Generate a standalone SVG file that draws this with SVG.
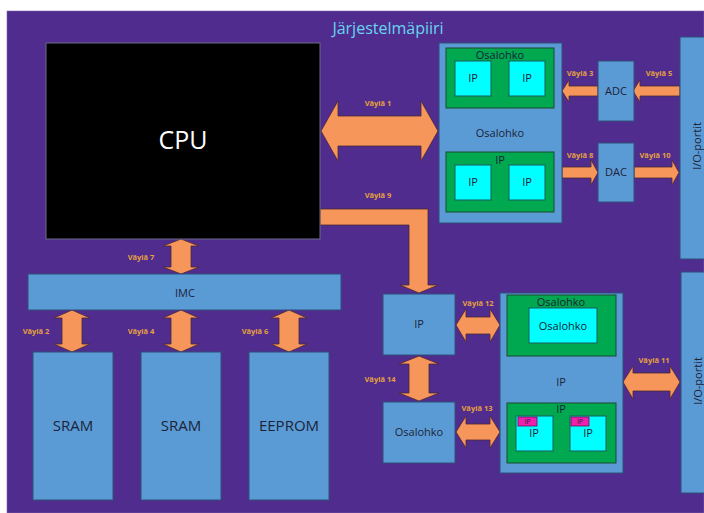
<svg xmlns="http://www.w3.org/2000/svg" width="704" height="513" viewBox="0 0 704 513">
<defs>
<style>
.bg{fill:#502c8e;}
.box{fill:#5b9bd5;stroke:#2f4f78;stroke-width:1;}
.grn{fill:#00a850;stroke:#1d4a2c;stroke-width:1;}
.cyn{fill:#00ffff;stroke:#1d5a5a;stroke-width:1;}
.mag{fill:#f01fb0;stroke:#6a1050;stroke-width:0.8;}
.arr{fill:#f7965a;stroke:#4a2a30;stroke-width:0.8;stroke-linejoin:miter;}
text{font-family:"Open Sans",Lato,"Liberation Sans",sans-serif;text-anchor:middle;}
.t{fill:#1b2338;font-size:11px;}
.tm{fill:#1b2338;font-size:15px;}
.lbl{fill:#e5a040;font-size:7.5px;font-weight:bold;}
.sm{fill:#1b2338;font-size:7px;}
</style>
</defs>
<rect x="0" y="0" width="704" height="513" fill="#ffffff"/>
<rect class="bg" x="7" y="11" width="697" height="502" stroke="#7a66b0" stroke-width="0.6"/>
<text x="388" y="34" font-size="16" fill="#66d6f0">Järjestelmäpiiri</text>

<g id="connectors">
<polygon id="v1" class="arr" points="321,131 338,101 338,116 421,116 421,101 438,131 421,161 421,146 338,146 338,161"/>
<polygon id="v9" class="arr" points="320,209 428,209 428,285 438,285 419,293 400,285 409,285 409,225 320,225"/>
<polygon id="v3" class="arr" points="562,91 569,80 569,86 598,86 598,96 569,96 569,102"/>
<polygon id="v5" class="arr" points="633,91 640,80 640,86 680,86 680,96 640,96 640,102"/>
<polygon id="v8" class="arr" points="562,167 591,167 591,160 598,172.5 591,185 591,178 562,178"/>
<polygon id="v10" class="arr" points="634,167 672,167 672,160 679,172.5 672,185 672,178 634,178"/>
<polygon id="v7" class="arr" points="181,239 199,246 191,246 191,267 199,267 181,274 163,267 171,267 171,246 163,246"/>
<polygon id="v2" class="arr" points="72,310 90,318 82,318 82,344 90,344 72,352 54,344 62,344 62,318 54,318"/>
<polygon id="v4" class="arr" points="181,310 199,318 191,318 191,344 199,344 181,352 163,344 171,344 171,318 163,318"/>
<polygon id="v6" class="arr" points="289,310 307,318 299,318 299,344 307,344 289,352 271,344 279,344 279,318 271,318"/>
<polygon id="v14" class="arr" points="419,356 439,364 429,364 429,393 439,393 419,401 399,393 409,393 409,364 399,364"/>
<polygon id="v12" class="arr" points="456,325 466,309 466,317 490,317 490,309 500,325 490,342 490,334 466,334 466,342"/>
<polygon id="v13" class="arr" points="456,432 466,416 466,424 490,424 490,416 500,432 490,448 490,440 466,440 466,448"/>
<polygon id="v11" class="arr" points="623,382 633,366 633,373 670,373 670,366 680,382 670,399 670,391 633,391 633,399"/>
<text class="lbl" x="378" y="106">Väylä 1</text>
<text class="lbl" x="378" y="198">Väylä 9</text>
<text class="lbl" x="580" y="76">Väylä 3</text>
<text class="lbl" x="659" y="76">Väylä 5</text>
<text class="lbl" x="580" y="158">Väylä 8</text>
<text class="lbl" x="655" y="158">Väylä 10</text>
<text class="lbl" x="141" y="260">Väylä 7</text>
<text class="lbl" x="36" y="334">Väylä 2</text>
<text class="lbl" x="141" y="334">Väylä 4</text>
<text class="lbl" x="255" y="334">Väylä 6</text>
<text class="lbl" x="380" y="382">Väylä 14</text>
<text class="lbl" x="478" y="306">Väylä 12</text>
<text class="lbl" x="477" y="411">Väylä 13</text>
<text class="lbl" x="654" y="363">Väylä 11</text>
</g>

<g id="cpu">
<rect x="46" y="43" width="274" height="196" fill="#000000" stroke="#6a6a8a" stroke-width="1"/>
<text x="183" y="149" font-size="25" fill="#ffffff">CPU</text>
</g>

<g id="osalohko-top">
<rect class="box" x="439" y="43" width="123" height="180"/>
<text class="t" x="500" y="137">Osalohko</text>
<g id="osalohko-top-a">
<rect class="grn" x="446" y="48" width="108" height="60"/>
<text class="t" x="500" y="59">Osalohko</text>
<rect class="cyn" x="455" y="61" width="36" height="35"/>
<text class="t" x="473" y="82">IP</text>
<rect class="cyn" x="509" y="61" width="36" height="35"/>
<text class="t" x="527" y="82">IP</text>
</g>
<g id="osalohko-top-b">
<rect class="grn" x="446" y="152" width="108" height="60"/>
<text class="t" x="500" y="164">IP</text>
<rect class="cyn" x="455" y="165" width="36" height="35"/>
<text class="t" x="473" y="186">IP</text>
<rect class="cyn" x="509" y="165" width="36" height="35"/>
<text class="t" x="527" y="186">IP</text>
</g>
</g>

<g id="adc">
<rect class="box" x="598" y="61" width="36" height="60"/>
<text class="t" x="616" y="95">ADC</text>
</g>
<g id="dac">
<rect class="box" x="598" y="143" width="36" height="59"/>
<text class="t" x="616" y="176">DAC</text>
</g>

<g id="io-top">
<rect class="box" x="680" y="37" width="30" height="222"/>
<text class="t" transform="translate(701,146) rotate(-90)">I/O-portit</text>
</g>
<g id="io-bottom">
<rect class="box" x="681" y="272" width="30" height="221"/>
<text class="t" transform="translate(702,381) rotate(-90)">I/O-portit</text>
</g>

<g id="imc">
<rect class="box" x="28" y="274" width="313" height="36"/>
<text class="t" x="185" y="297" font-size="14">IMC</text>
</g>
<g id="sram1">
<rect class="box" x="33" y="352" width="80" height="148"/>
<text class="tm" x="73" y="431">SRAM</text>
</g>
<g id="sram2">
<rect class="box" x="141" y="352" width="80" height="148"/>
<text class="tm" x="181" y="431">SRAM</text>
</g>
<g id="eeprom">
<rect class="box" x="249" y="352" width="80" height="148"/>
<text class="tm" x="289" y="431">EEPROM</text>
</g>

<g id="ip-mid">
<rect class="box" x="383" y="294" width="72" height="61"/>
<text class="t" x="419" y="328">IP</text>
</g>
<g id="osalohko-mid">
<rect class="box" x="383" y="402" width="72" height="61"/>
<text class="t" x="419" y="436">Osalohko</text>
</g>

<g id="ip-big">
<rect class="box" x="500" y="293" width="123" height="180"/>
<text class="t" x="561" y="386">IP</text>
<g id="ip-big-a">
<rect class="grn" x="507" y="295" width="109" height="61"/>
<text class="t" x="561" y="306">Osalohko</text>
<rect class="cyn" x="529" y="308" width="68" height="35"/>
<text class="t" x="563" y="330">Osalohko</text>
</g>
<g id="ip-big-b">
<rect class="grn" x="507" y="403" width="109" height="60"/>
<text class="t" x="561" y="413">IP</text>
<rect class="cyn" x="516" y="416" width="37" height="35"/>
<rect class="mag" x="518" y="417" width="19" height="9"/>
<text class="sm" x="527.5" y="424">IP</text>
<text class="t" x="534" y="437">IP</text>
<rect class="cyn" x="570" y="416" width="36" height="35"/>
<rect class="mag" x="571" y="417" width="18" height="9"/>
<text class="sm" x="580" y="424">IP</text>
<text class="t" x="588" y="437">IP</text>
</g>
</g>
</svg>
